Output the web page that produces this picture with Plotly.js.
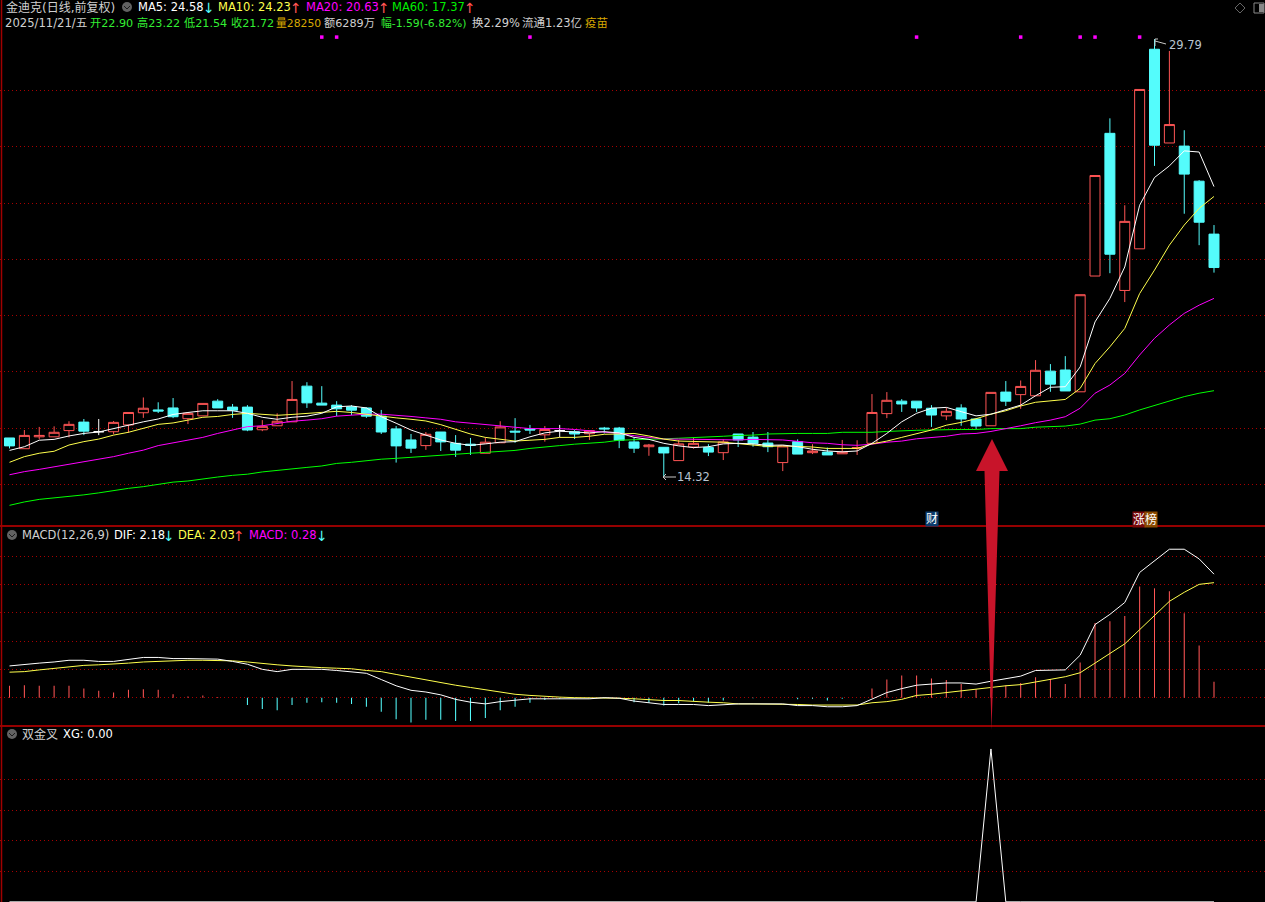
<!DOCTYPE html>
<html>
<head>
<meta charset="utf-8">
<script src="https://cdn.plot.ly/plotly-3.0.1.min.js"></script>
<style>html,body{margin:0;padding:0;background:#000;overflow:hidden}#chart{width:1265px;height:902px}</style>
</head>
<body>
<div id="chart"></div>
<script>
const opens = [15.70,15.32,15.74,15.74,15.96,16.26,15.92,15.92,16.16,16.59,
16.69,16.76,16.38,16.48,17.00,16.79,16.79,15.99,16.13,16.27,
17.53,16.93,16.86,16.80,16.76,16.47,16.02,15.63,15.43,15.91,
15.51,15.48,15.16,15.53,15.94,16.02,15.81,15.96,15.92,15.85,
16.05,16.05,15.56,15.39,15.37,14.90,15.38,15.36,15.18,15.84,
15.73,15.52,14.83,15.57,15.18,15.20,15.14,15.33,15.51,16.56,
17.00,17.00,16.75,16.48,16.76,16.37,16.13,17.32,17.23,17.19,
18.06,18.10,17.33,21.42,26.46,20.91,22.38,29.43,26.12,26.01,
24.77,22.90];
const highs = [15.70,15.98,16.09,16.11,16.29,16.37,16.37,16.30,16.60,17.13,
16.96,17.11,16.57,16.92,17.07,16.90,16.86,16.33,16.57,17.71,
17.67,17.53,17.00,16.86,16.78,16.69,16.12,15.84,15.91,15.91,
15.80,15.70,15.72,16.29,16.40,16.16,16.12,16.16,15.98,15.96,
16.09,16.09,15.72,15.49,15.38,15.63,15.72,15.48,15.65,15.84,
15.91,15.91,15.42,15.65,15.48,15.36,15.63,15.62,17.25,17.32,
17.07,17.00,16.86,16.77,16.89,16.37,17.31,17.71,17.73,18.45,
18.31,18.59,20.76,24.97,26.99,23.92,28.01,29.79,29.37,26.57,
24.81,23.22];
const lows = [15.33,15.32,15.65,15.74,15.72,15.80,15.80,15.83,15.88,16.41,
16.58,16.40,16.19,16.48,16.76,16.41,15.94,15.94,16.13,16.27,
16.76,16.86,16.47,16.51,16.41,15.84,14.83,15.17,15.28,15.24,
15.03,15.10,15.16,15.53,15.53,15.84,15.57,15.72,15.66,15.63,
15.86,15.34,15.17,15.07,14.32,14.90,15.32,15.06,14.92,15.38,
15.39,15.20,14.53,15.13,15.13,15.10,15.14,15.10,15.51,16.40,
16.62,16.62,16.09,16.33,16.13,16.02,16.13,16.83,16.73,17.19,
17.33,17.36,17.33,21.42,21.52,20.50,22.38,25.31,26.12,23.62,
22.51,21.54];
const closes = [15.42,15.79,15.79,15.90,16.18,15.94,15.92,16.25,16.60,16.75,
16.65,16.45,16.57,16.92,16.76,16.68,15.98,16.11,16.29,17.06,
16.94,16.86,16.73,16.68,16.47,15.91,15.42,15.34,15.83,15.56,
15.27,15.44,15.55,16.09,15.91,15.98,16.00,15.96,15.84,15.96,
16.02,15.62,15.34,15.45,15.17,15.49,15.51,15.20,15.56,15.63,
15.50,15.39,15.42,15.13,15.24,15.10,15.20,15.36,16.60,17.03,
16.90,16.76,16.51,16.64,16.37,16.12,17.31,17.00,17.52,18.09,
17.60,17.36,20.76,24.97,22.19,23.35,28.01,26.04,26.77,25.02,
23.32,21.72];
const ma5 = [15.26,15.39,15.62,15.65,15.77,15.86,15.91,16.03,16.17,16.27,
16.37,16.53,16.60,16.66,16.66,16.66,16.57,16.43,16.36,16.43,
16.47,16.57,16.80,16.83,16.76,16.45,16.22,15.98,15.80,15.63,
15.51,15.44,15.49,15.55,15.57,15.74,15.88,15.94,15.91,15.88,
15.92,15.88,15.72,15.65,15.51,15.42,15.36,15.39,15.49,15.51,
15.49,15.44,15.45,15.39,15.30,15.24,15.21,15.24,15.51,15.86,
16.27,16.57,16.75,16.78,16.63,16.48,16.54,16.69,16.86,17.19,
17.49,17.51,18.21,19.80,20.63,21.74,23.92,24.90,25.31,25.84,
25.80,24.58];
const ma10 = [14.84,15.04,15.16,15.23,15.45,15.57,15.66,15.80,15.90,16.03,
16.18,16.23,16.33,16.43,16.46,16.53,16.57,16.53,16.50,16.53,
16.57,16.60,16.64,16.60,16.53,16.48,16.41,16.36,16.30,16.17,
16.00,15.84,15.72,15.65,15.59,15.62,15.65,15.72,15.72,15.76,
15.83,15.84,15.86,15.77,15.66,15.59,15.58,15.55,15.55,15.50,
15.45,15.40,15.42,15.40,15.38,15.33,15.33,15.33,15.49,15.59,
15.72,15.86,15.98,16.15,16.25,16.38,16.54,16.66,16.83,16.96,
17.00,17.06,17.45,18.33,18.92,19.57,20.80,21.63,22.51,23.22,
23.81,24.23];
const ma20 = [14.40,14.51,14.59,14.68,14.77,14.86,14.95,15.04,15.16,15.27,
15.43,15.53,15.63,15.72,15.86,15.98,16.10,16.13,16.22,16.29,
16.33,16.38,16.47,16.51,16.54,16.54,16.51,16.46,16.41,16.36,
16.27,16.22,16.18,16.12,16.08,16.03,16.03,16.03,16.00,15.96,
15.92,15.86,15.78,15.72,15.66,15.66,15.65,15.65,15.62,15.63,
15.65,15.65,15.63,15.58,15.53,15.51,15.46,15.44,15.48,15.55,
15.59,15.67,15.72,15.76,15.84,15.86,15.93,16.02,16.13,16.24,
16.33,16.45,16.75,17.28,17.57,17.98,18.63,19.22,19.69,20.10,
20.39,20.63];
const ma60 = [13.32,13.44,13.53,13.58,13.63,13.69,13.76,13.85,13.92,13.98,
14.07,14.14,14.18,14.26,14.32,14.38,14.42,14.50,14.56,14.61,
14.66,14.71,14.80,14.84,14.90,14.95,14.98,15.02,15.05,15.09,
15.12,15.16,15.19,15.23,15.26,15.33,15.37,15.43,15.48,15.51,
15.55,15.62,15.63,15.65,15.67,15.69,15.71,15.72,15.76,15.79,
15.80,15.84,15.86,15.86,15.86,15.86,15.90,15.90,15.90,15.93,
15.96,15.97,15.98,16.00,16.00,16.00,16.03,16.03,16.03,16.08,
16.11,16.12,16.19,16.33,16.38,16.51,16.69,16.84,17.00,17.16,
17.28,17.37];
const dif = [.56,.59,.61,.63,.66,.66,.64,.64,.68,.71,
.71,.69,.69,.69,.68,.64,.59,.50,.46,.50,
.50,.50,.48,.45,.43,.32,.21,.13,.10,.05,
-.03,-.08,-.11,-.07,-.04,-.02,-.02,-.02,-.02,-.02,
0,-.01,-.06,-.09,-.12,-.12,-.12,-.14,-.12,-.11,
-.11,-.11,-.11,-.14,-.14,-.16,-.16,-.14,-.02,.09,
.16,.22,.24,.26,.26,.24,.29,.34,.38,.48,
.49,.49,.75,1.29,1.47,1.68,2.21,2.41,2.62,2.62,
2.45,2.18];
const dea = [.45,.46,.49,.52,.55,.57,.58,.59,.61,.63,
.64,.66,.66,.66,.66,.65,.63,.60,.58,.56,
.54,.53,.52,.51,.48,.46,.41,.36,.31,.27,
.22,.18,.14,.09,.06,.04,.02,.01,0,0,
0,-.01,-.02,-.04,-.05,-.05,-.07,-.08,-.09,-.11,
-.11,-.11,-.11,-.12,-.13,-.13,-.13,-.13,-.09,-.07,
-.03,.04,.06,.09,.13,.15,.19,.21,.23,.28,
.33,.37,.44,.61,.77,.95,1.20,1.45,1.70,1.86,
2.00,2.03];
const macd = [.21,.22,.21,.21,.21,.16,.12,.09,.14,.15,
.14,.06,.02,.04,.01,0,-.13,-.20,-.22,-.13,
-.09,-.08,-.09,-.11,-.16,-.25,-.38,-.44,-.39,-.39,
-.41,-.41,-.36,-.22,-.16,-.09,-.04,-.02,-.01,-.01,
-.01,-.01,-.08,-.09,-.14,-.10,-.06,-.09,-.05,0,
-.01,0,0,-.03,-.02,-.05,-.02,0,.16,.32,
.39,.39,.34,.31,.24,.15,.19,.22,.26,.36,
.33,.24,.62,1.32,1.35,1.44,1.96,1.93,1.88,1.49,
.92,.28];
const xg = [0,0,0,0,0,0,0,0,0,0,0,0,0,0,0,0,0,0,0,0,
0,0,0,0,0,0,0,0,0,0,0,0,0,0,0,0,0,0,0,0,
0,0,0,0,0,0,0,0,0,0,0,0,0,0,0,0,0,0,0,0,
0,0,0,0,0,0,1,0,0,0,0,0,0,0,0,0,0,0,0,0,
0,0];
const signalDays = [21,22,35,61,68,72,73,76];
const signalLevel = 29.86;
const maxLabel = "29.79", minLabel = "14.32";
const priceGrid = [14.07,16.05,18.04,20.02,22.01,23.99,25.98,27.96];
const macdGrid = [0,.5,1,1.5,2,2.5];
const xgGrid = [.2,.4,.6,.8];

const days = closes.map((_, i) => i);
const CYAN = '#54fcfc', RED = '#ff5555', GRID = '#a80000', BORDER = '#c80000';
const W = 1265, H = 902;
const px = x => x / W, py = y => 1 - y / H;

const isDoji = i => opens[i] === closes[i];
const pick = (arr, test) => arr.map((v, i) => test(i) ? v : null);
const candle = (test, inc, dec) => ({
  type: 'candlestick', x: days, xaxis: 'x', yaxis: 'y', whiskerwidth: 0, hoverinfo: 'skip',
  open: pick(opens, test), high: pick(highs, test), low: pick(lows, test), close: pick(closes, test),
  increasing: {line: {color: inc, width: 1}, fillcolor: '#000'},
  decreasing: {line: {color: dec, width: 1}, fillcolor: dec}
});
const line = (y, color, ax) => ({type: 'scatter', mode: 'lines', x: days, y, yaxis: ax, xaxis: 'x',
  line: {color, width: 1}, hoverinfo: 'skip', cliponaxis: true});

const traces = [
  candle(i => !isDoji(i), RED, CYAN),
  candle(isDoji, '#ffffff', '#ffffff'),
  line(ma60, '#00ff00', 'y'),
  line(ma20, '#ff00ff', 'y'),
  line(ma10, '#ffff4d', 'y'),
  line(ma5, '#ffffff', 'y'),
  {type: 'scatter', mode: 'markers', x: signalDays, y: signalDays.map(() => signalLevel), xaxis: 'x', yaxis: 'y',
   marker: {symbol: 'square', size: 3.5, color: '#ff00ff', line: {width: 0}}, hoverinfo: 'skip'},
  {type: 'bar', x: days, y: macd, xaxis: 'x', yaxis: 'y2', width: 0.07,
   marker: {color: macd.map(v => v >= 0 ? RED : CYAN), line: {width: 0}}, hoverinfo: 'skip'},
  line(dea, '#ffff4d', 'y2'),
  line(dif, '#ffffff', 'y2'),
  line(xg, '#ffffff', 'y3')
];

const FONT = '"DejaVu Sans","Noto Sans CJK SC",sans-serif';
const text = (x, y, t, color, size, extra) => Object.assign({
  xref: 'paper', yref: 'paper', x: px(x), y: py(y), text: t, showarrow: false,
  xanchor: 'left', yanchor: 'middle', borderpad: 0,
  font: {family: FONT, size: size || 11.5, color}
}, extra || {});

const LIGHT = '#d0d0d0', GRN = '#33ee33', GOLD = '#d8a800';
const annotations = [
  text(5, 7, '金迪克(日线,前复权)', LIGHT, 12),
  text(137, 7, 'MA5: 24.58', '#ffffff'),
  text(202, 8, '↓', CYAN, 14),
  text(217, 7, 'MA10: 24.23', '#ffff4d'),
  text(289, 8, '↑', RED, 14),
  text(305, 7, 'MA20: 20.63', '#ff00ff'),
  text(377, 8, '↑', RED, 14),
  text(391, 7, 'MA60: 17.37', '#00ee00'),
  text(463, 8, '↑', RED, 14),
  text(4, 23, '2025/11/21/五', LIGHT, 11.6),
  text(89, 23, '开22.90', GRN, 11.2),
  text(136, 23, '高23.22', GRN, 11.2),
  text(183, 23, '低21.54', GRN, 11.2),
  text(230, 23, '收21.72', GRN, 11.2),
  text(275, 23, '量28250', GOLD, 10.8),
  text(323, 23, '额6289万', LIGHT, 11.2),
  text(380, 23, '幅-1.59(-6.82%)', GRN, 10.8),
  text(471, 23, '换2.29%', LIGHT),
  text(521, 23, '流通1.23亿', LIGHT),
  text(584, 23, '疫苗', GOLD),
  text(21, 535, 'MACD(12,26,9)', LIGHT),
  text(113, 535, 'DIF: 2.18', '#ffffff'),
  text(162, 536, '↓', CYAN, 14),
  text(177, 535, 'DEA: 2.03', '#ffff4d'),
  text(232, 536, '↑', RED, 14),
  text(248, 535, 'MACD: 0.28', '#ff00ff'),
  text(315, 536, '↓', CYAN, 14),
  text(21, 734, '双金叉', LIGHT, 12),
  text(62, 734, 'XG: 0.00', '#ffffff'),
  text(1168, 45, maxLabel, '#b8c4d0', 11.5),
  text(676, 477, minLabel, '#b8c4d0', 11.5),
  text(924.5, 519, '财', '#ffffff', 12, {bgcolor: '#0c3c6c'}),
  text(1132, 519, '涨', '#ffffff', 12, {bgcolor: '#780808'}),
  text(1144, 519, '榜', '#ffffff', 12, {bgcolor: '#8a4a00'})
];

const pathShape = (pts, fill, lineColor, close) => ({
  type: 'path', xref: 'paper', yref: 'paper', layer: 'above',
  path: pts.map((p, i) => (i ? 'L' : 'M') + px(p[0]) + ' ' + py(p[1])).join(' ') + (close ? ' Z' : ''),
  fillcolor: fill || 'rgba(0,0,0,0)', line: {color: lineColor || 'rgba(0,0,0,0)', width: lineColor ? 1 : 0}
});
const hline = (y, color, w) => ({type: 'line', xref: 'paper', yref: 'paper', x0: 0, x1: 1, y0: py(y), y1: py(y), layer: 'above', line: {color, width: w}});
const icon = (cx, cy) => [
  {type: 'circle', xref: 'paper', yref: 'paper', layer: 'above', x0: px(cx - 5), x1: px(cx + 5), y0: py(cy + 5), y1: py(cy - 5), fillcolor: '#626262', line: {width: 0}},
  pathShape([[cx - 3, cy - 1], [cx, cy + 2], [cx + 3, cy - 1]], null, '#1c1c1c')
];
const shapes = [
  hline(526, BORDER, 1.5), hline(726, BORDER, 1.5),
  {type: 'line', xref: 'paper', yref: 'paper', x0: px(1.5), x1: px(1.5), y0: 0, y1: 1, layer: 'above', line: {color: '#a00000', width: 1.5}},
  pathShape([[992, 439], [1008, 471], [999.5, 471], [991.5, 730], [984.5, 471], [976, 471]], '#c8142a', null, true),
  ...icon(127, 7), ...icon(12, 535), ...icon(12, 734),
  pathShape([[1240, 3], [1245, 8], [1240, 13], [1235, 8]], null, '#666666', true),
  pathShape([[1254, 3], [1264, 3], [1264, 13], [1254, 13]], null, '#888888', true),
  pathShape([[1259, 4], [1264, 4], [1264, 12], [1259, 12]], '#888888', null, true),
  pathShape([[1155, 46], [1155, 39], [1158, 39]], null, '#c8c8c8'),
  pathShape([[1155, 41], [1166, 44]], null, '#c8c8c8'),
  pathShape([[676, 477], [663, 477]], null, '#c8c8c8'),
  pathShape([[666, 474], [663, 477], [666, 480]], null, '#c8c8c8')
];

const gridAxis = (domain, range, tickvals) => ({
  domain, range, tickmode: 'array', tickvals, ticktext: tickvals.map(() => ''), showticklabels: false, ticks: '', zeroline: false, showline: false,
  showgrid: true, gridcolor: GRID, griddash: '1px,3px', gridwidth: 1, fixedrange: true
});
const layout = {
  width: W, height: H, margin: {l: 0, r: 0, t: 0, b: 0}, autosize: false,
  paper_bgcolor: '#000', plot_bgcolor: '#000', showlegend: false, barmode: 'overlay', hovermode: false,
  boxmode: 'overlay', boxgap: 0.18, boxgroupgap: 0.18,
  font: {family: FONT},
  xaxis: {domain: [0, 1], range: [-0.639, 84.43], visible: false, showgrid: false, zeroline: false, rangeslider: {visible: false}, fixedrange: true},
  yaxis: gridAxis([py(526), 1], [12.59, 31.17], priceGrid),
  yaxis2: gridAxis([py(726), py(526)], [-0.5, 3.03], macdGrid),
  yaxis3: gridAxis([0, py(726)], [-0.001, 1.15], xgGrid),
  annotations, shapes
};
Plotly.newPlot('chart', traces, layout, {staticPlot: true, displayModeBar: false});
</script>
</body>
</html>
